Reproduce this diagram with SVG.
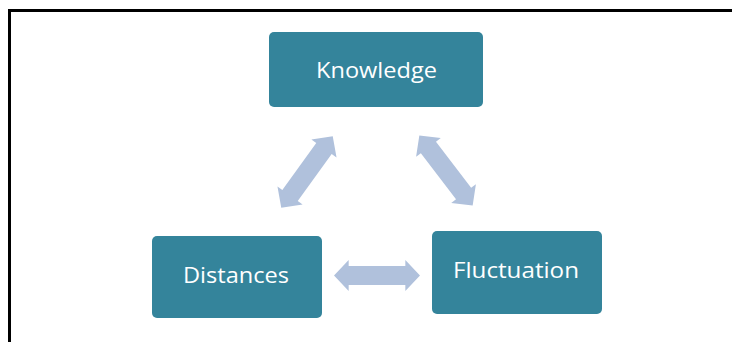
<svg xmlns="http://www.w3.org/2000/svg" xmlns:xlink="http://www.w3.org/1999/xlink" width="732" height="342" viewBox="0 0 732 342">
  <style>
    .box { fill: #34849b; }
    .label { fill: #ffffff; font-family: "Open Sans", "Liberation Sans", sans-serif; font-size: 22px; text-anchor: middle; }
    .arrow { fill: #b0c1dc; }
  </style>
  <defs>
    <!-- double-headed block arrow, centred on the origin, pointing along x -->
    <path id="dbl" d="M -44 0 L -29 -15.5 L -29 -9.5 L 29 -9.5 L 29 -15.5 L 44 0 L 29 15.5 L 29 9.5 L -29 9.5 L -29 15.5 Z"/>
  </defs>
  <rect width="732" height="342" fill="#ffffff"/>
  <!-- frame -->
  <rect x="9.5" y="10.5" width="740" height="360" fill="none" stroke="#000000" stroke-width="3"/>

  <g id="connectors" class="arrow">
    <use xlink:href="#dbl" transform="translate(307 172) rotate(125.8)"/>
    <use xlink:href="#dbl" transform="translate(446 170.5) rotate(52.7)"/>
    <use xlink:href="#dbl" transform="translate(377 275.5) scale(0.977 1)"/>
  </g>

  <g id="knowledge">
    <rect class="box" x="269" y="32" width="214" height="75" rx="5"/>
    <text class="label" x="376.5" y="78" textLength="121" lengthAdjust="spacingAndGlyphs">Knowledge</text>
  </g>
  <g id="distances">
    <rect class="box" x="152" y="236" width="170" height="82" rx="5"/>
    <text class="label" x="236" y="283" textLength="106" lengthAdjust="spacingAndGlyphs">Distances</text>
  </g>
  <g id="fluctuation">
    <rect class="box" x="432" y="231" width="170" height="83" rx="5"/>
    <text class="label" x="516" y="278" textLength="126" lengthAdjust="spacingAndGlyphs">Fluctuation</text>
  </g>
</svg>
